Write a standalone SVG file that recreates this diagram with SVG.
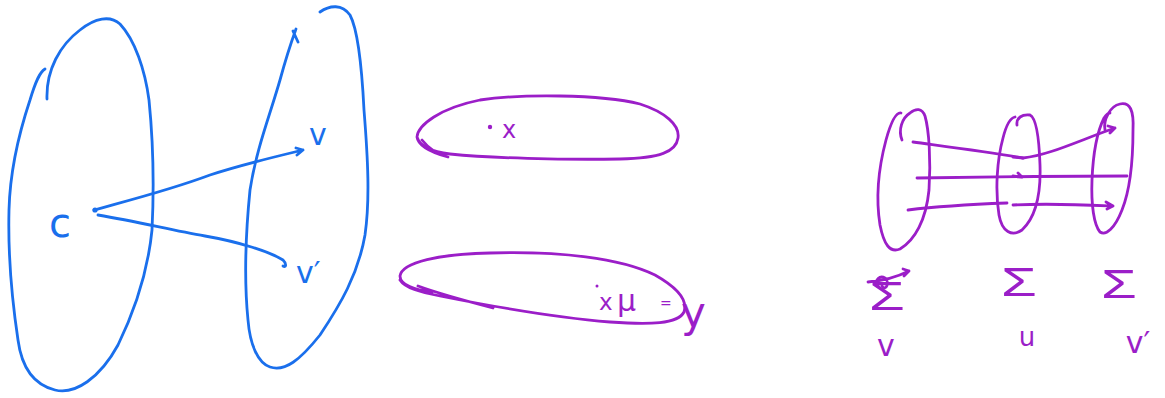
<svg xmlns="http://www.w3.org/2000/svg" width="1165" height="398" viewBox="0 0 1165 398">
<style>
.b{fill:none;stroke:#1a6fec;stroke-width:2.8;stroke-linecap:round;stroke-linejoin:round}
.p{fill:none;stroke:#9b1ec8;stroke-width:2.8;stroke-linecap:round;stroke-linejoin:round}
.tb{fill:#1a6fec;font-family:'DejaVu Sans',sans-serif}
.tp{fill:#9b1ec8;font-family:'DejaVu Sans',sans-serif}
.sg{fill:#9b1ec8;font-family:'Liberation Sans',sans-serif;font-size:40px;text-anchor:middle}
</style>
<rect width="1165" height="398" fill="#fff"/>
<g id="left-set">
<path class="b" d="M47,99 C46,70 60,45 80,30 C95,18 110,15 120,24 C135,40 145,70 149,100 C153,140 154,190 152,230 C148,270 135,310 118,345 C100,378 75,395 55,390 C35,385 22,370 18,340 C12,300 8,250 9,210 C10,170 20,130 30,100 C36,80 40,72 45,69"/>
<circle cx="95" cy="210" r="2.6" fill="#1a6fec"/>
<text class="tb" x="49" y="237" font-size="40">c</text>
</g>
<g id="right-set">
<path class="b" d="M320,12 C330,5 342,4 350,15 C358,30 362,70 364,110 C368,160 370,200 365,235 C358,275 340,305 320,335 C300,360 285,372 270,367 C258,363 250,345 248,320 C244,280 246,230 250,190 C256,150 270,115 280,80 C286,58 292,40 296,29 M293,31 L298,42"/>
<text class="tb" x="309" y="145" font-size="30">v</text>
<text class="tb" x="296" y="283" font-size="30">v′</text>
</g>
<g id="connectors">
<path class="b" d="M94,210 C130,200 170,190 210,175 C240,165 270,158 303,150 M296,148 L303,150 L297,155"/>
<path class="b" d="M98,215 C140,222 170,230 205,236 C240,242 270,252 283,260 C287,264 286,268 283,266"/>
</g>
<g id="top-oval">
<path class="p" d="M422,140 C430,150 440,155 448,157 M448,157 C430,152 418,145 417,137 C418,125 440,108 480,100 C520,94 600,94 640,104 C665,112 680,125 678,138 C676,152 660,158 620,159 C560,160 490,158 450,154 C432,152 420,147 417,137"/>
<circle cx="490" cy="127" r="2.2" fill="#9b1ec8"/>
<text class="tp" x="502" y="138" font-size="24">x</text>
</g>
<g id="bottom-oval">
<path class="p" d="M418,286 C440,294 470,302 493,308 M432,292 C415,290 400,285 400,276 C402,262 440,254 490,253 C560,251 620,258 655,275 C678,288 688,300 684,312 C678,324 650,325 610,322 C560,318 500,308 440,296 C420,292 405,288 400,280"/>
<circle cx="597" cy="286" r="1.5" fill="#9b1ec8"/>
<text class="tp" x="599" y="310" font-size="23">x</text>
<text class="tp" x="617" y="311" font-size="30">μ</text>
<text class="tp" x="660" y="308" font-size="14">=</text>
<text class="tp" x="681" y="327" font-size="42">y</text>
</g>
<g id="sets-v-u-v">
<path class="p" d="M902,140 C898,130 902,118 910,113 C916,108 922,108 925,116 C929,130 931,160 929,190 C926,220 915,240 900,249 C890,253 884,245 880,225 C876,200 878,170 886,140 C891,122 896,112 901,113"/>
<path class="p" d="M1017,125 C1016,118 1022,114 1030,115 C1036,118 1039,135 1040,165 C1041,195 1035,218 1022,230 C1012,237 1002,232 999,215 C995,190 997,160 1003,138 C1006,126 1010,118 1015,117"/>
<path class="p" d="M1105,130 C1103,120 1110,106 1120,104 C1130,102 1134,110 1133,130 C1133,160 1130,190 1122,210 C1115,228 1106,236 1100,232 C1094,225 1091,205 1092,180 C1093,155 1097,132 1104,118 C1106,115 1108,113 1110,113"/>
<text class="sg" transform="translate(887,310) scale(1.45,1)">Σ</text>
<path class="p" d="M868,282 C880,281 895,278 909,271 M903,269 L909,271 L904,276 M878,285 C874,280 880,275 885,278 C890,282 886,292 882,286"/>
<text class="sg" transform="translate(1019,296) scale(1.45,1)">Σ</text>
<text class="sg" transform="translate(1119,298) scale(1.45,1)">Σ</text>
<text class="tp" x="886" y="356" font-size="30" text-anchor="middle">v</text>
<text class="tp" x="1027" y="346" font-size="26" text-anchor="middle">u</text>
<text class="tp" x="1138" y="353" font-size="30" text-anchor="middle">v′</text>
</g>
<g id="maps">
<path class="p" d="M913,142 C950,147 990,152 1023,158 C1050,155 1080,140 1115,128 M1108,126 L1115,128 L1110,133"/>
<path class="p" d="M1013,157 L1023,158"/>
<path class="p" d="M917,178 C980,177 1060,176 1127,176"/>
<path class="p" d="M1013,176 L1022,177 M1018,173 L1022,177"/>
<path class="p" d="M908,210 C940,206 980,204 1007,203"/>
<path class="p" d="M1013,205 C1050,203 1090,205 1113,206 M1106,202 L1113,206 L1107,209"/>
</g>
</svg>
